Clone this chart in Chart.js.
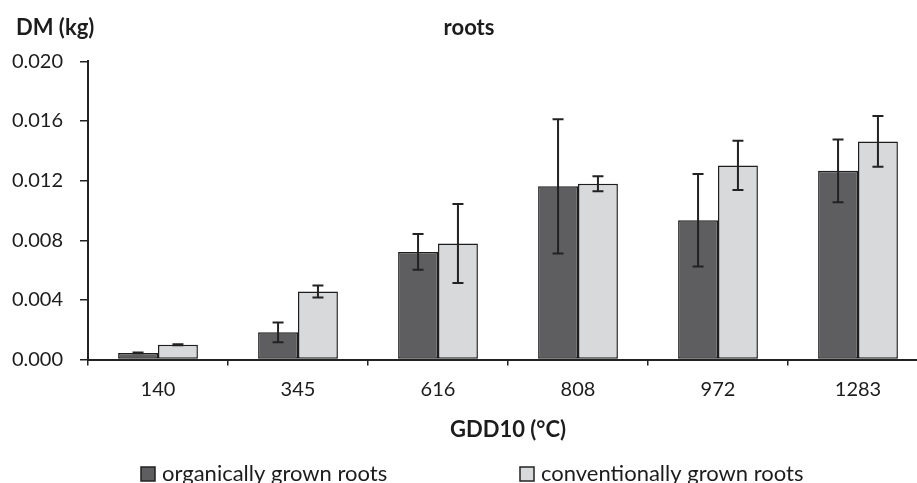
<!DOCTYPE html>
<html>
<head>
<meta charset="utf-8">
<script src="https://cdn.jsdelivr.net/npm/chart.js@4"></script>
<style>
  html, body { margin: 0; padding: 0; background: #fff; overflow: hidden; }
  #wrap { position: relative; width: 928px; height: 483px; }
</style>
</head>
<body>
<div id="wrap"><canvas id="rootsChart"></canvas></div>
<script>
const categories = ['140', '345', '616', '808', '972', '1283'];
const organic = [0.00045, 0.00183, 0.00722, 0.01162, 0.00934, 0.01266];
const organicErr = [0.00003, 0.00066, 0.0012, 0.0045, 0.0031, 0.0021];
const conventional = [0.0010, 0.00457, 0.00778, 0.01179, 0.01302, 0.01463];
const conventionalErr = [0.00003, 0.0004, 0.00265, 0.0005, 0.00165, 0.0017];
const errors = [organicErr, conventionalErr];

const textColor = '#1c1c1c';
const font = 'Lato';

// error bars + "DM (kg)" label + legend
const extras = {
  id: 'extras',
  afterDatasetsDraw(chart) {
    const ctx = chart.ctx;
    const y = chart.scales.y;
    ctx.save();
    ctx.strokeStyle = '#222';
    ctx.lineWidth = 2;
    chart.data.datasets.forEach((ds, i) => {
      chart.getDatasetMeta(i).data.forEach((bar, j) => {
        const v = ds.data[j], e = errors[i][j];
        const top = y.getPixelForValue(v + e);
        const bot = y.getPixelForValue(v - e);
        ctx.beginPath();
        ctx.moveTo(bar.x, top); ctx.lineTo(bar.x, bot);
        ctx.moveTo(bar.x - 5.5, top); ctx.lineTo(bar.x + 5.5, top);
        ctx.moveTo(bar.x - 5.5, bot); ctx.lineTo(bar.x + 5.5, bot);
        ctx.stroke();
      });
    });
    ctx.restore();
  },
  afterDraw(chart) {
    const ctx = chart.ctx;
    ctx.save();
    ctx.fillStyle = textColor;
    ctx.font = 'bold 22px ' + font;
    ctx.textBaseline = 'middle';
    ctx.textAlign = 'left';
    ctx.fillText('DM (kg)', 16, 28);

    // legend
    ctx.font = '22px ' + font;
    ctx.textBaseline = 'alphabetic';
    const starts = [141, 520];
    chart.data.datasets.forEach((ds, i) => {
      const lx = starts[i];
      ctx.fillStyle = ds.backgroundColor;
      ctx.fillRect(lx, 467, 14, 14);
      ctx.strokeStyle = '#222';
      ctx.lineWidth = 1.5;
      ctx.strokeRect(lx, 467, 14, 14);
      ctx.fillStyle = textColor;
      ctx.fillText(ds.label, lx + 21, 481);
    });
    ctx.restore();
  }
};

new Chart(document.getElementById('rootsChart'), {
  type: 'bar',
  data: {
    labels: categories,
    datasets: [
      {
        label: 'organically grown roots',
        data: organic,
        backgroundColor: '#5e5e60',
        borderColor: '#1e1e1e',
        borderWidth: 1.5,
        borderSkipped: false,
        categoryPercentage: 0.57,
        barPercentage: 1.0
      },
      {
        label: 'conventionally grown roots',
        data: conventional,
        backgroundColor: '#d8d9db',
        borderColor: '#1e1e1e',
        borderWidth: 1.5,
        borderSkipped: false,
        categoryPercentage: 0.57,
        barPercentage: 1.0
      }
    ]
  },
  options: {
    responsive: true,
    maintainAspectRatio: false,
    animation: false,
    layout: { padding: { left: 10, right: 0, top: 0, bottom: 36 } },
    plugins: {
      legend: { display: false },
      tooltip: { enabled: false },
      title: {
        display: true,
        text: 'roots',
        color: textColor,
        font: { family: font, size: 22, weight: 'bold' },
        padding: { top: 15, bottom: 20 }
      }
    },
    scales: {
      x: {
        grid: {
          display: true, drawOnChartArea: false, drawTicks: true,
          tickLength: 6, color: '#222', lineWidth: 1.5
        },
        border: { display: true, color: '#222', width: 2 },
        ticks: { color: textColor, font: { family: font, size: 20 }, padding: 12 },
        title: {
          display: true,
          text: 'GDD10 (°C)',
          color: textColor,
          font: { family: font, size: 22, weight: 'bold' },
          padding: { top: 3, bottom: 4 }
        }
      },
      y: {
        min: 0,
        max: 0.02,
        afterFit(scale) { scale.width = 78; },
        grid: {
          display: true, drawOnChartArea: false, drawTicks: true,
          tickLength: 8, color: '#222', lineWidth: 1.5
        },
        border: { display: true, color: '#222', width: 2 },
        ticks: {
          stepSize: 0.004,
          color: textColor,
          padding: 17,
          font: { family: font, size: 20 },
          callback: v => v.toFixed(3)
        }
      }
    }
  },
  plugins: [extras]
});
</script>
</body>
</html>
